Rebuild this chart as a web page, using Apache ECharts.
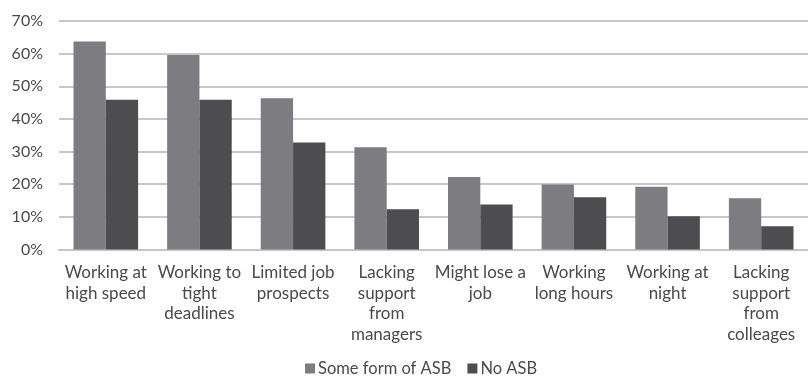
<!DOCTYPE html>
<html>
<head>
<meta charset="utf-8">
<script src="https://cdn.jsdelivr.net/npm/echarts@6/dist/echarts.min.js"></script>
<style>
  html, body { margin: 0; padding: 0; background: #ffffff; }
  #chart { width: 808px; height: 377px; }
</style>
</head>
<body>
<div id="chart"></div>
<script>
// Stressors reported by workers, split by whether they experienced ASB
const categories = [
  'Working at\nhigh speed',
  'Working to\ntight\ndeadlines',
  'Limited job\nprospects',
  'Lacking\nsupport\nfrom\nmanagers',
  'Might lose a\njob',
  'Working\nlong hours',
  'Working at\nnight',
  'Lacking\nsupport\nfrom\ncolleages'
];
const someFormOfASB = [63.7, 59.6, 46.3, 31.3, 22.2, 19.9, 19.2, 15.7];
const noASB = [45.9, 45.9, 32.8, 12.3, 13.8, 16.0, 10.2, 7.1];
const seriesNames = ['Some form of ASB', 'No ASB'];

const FONT = 'Lato, "Open Sans", sans-serif';
const TEXT = '#4a4a4e';

const chart = echarts.init(document.getElementById('chart'), null, { renderer: 'canvas' });
chart.setOption({
  animation: false,
  backgroundColor: '#ffffff',
  color: ['#7d7d81', '#4d4d50'],
  grid: { left: 59, right: -6, top: 21, bottom: 127.5, containLabel: false },
  legend: {
    data: seriesNames,
    left: 300,
    top: 355,
    itemWidth: 10,
    itemHeight: 10,
    itemGap: 16,
    icon: 'rect',
    textStyle: { fontFamily: FONT, fontSize: 16.5, color: TEXT, padding: [0, 0, 0, -2] }
  },
  xAxis: {
    type: 'category',
    data: categories,
    axisTick: { show: false },
    axisLine: { lineStyle: { color: '#c6c6c8', width: 2 } },
    axisLabel: {
      interval: 0,
      margin: 13,
      fontFamily: FONT,
      fontSize: 17,
      lineHeight: 20.5,
      color: TEXT,
      align: 'center'
    }
  },
  yAxis: {
    type: 'value',
    min: 0,
    max: 70,
    interval: 10,
    axisLine: { show: false },
    axisTick: { show: false },
    splitLine: { lineStyle: { color: '#c8c8ca', width: 2 } },
    axisLabel: {
      margin: 16,
      fontFamily: FONT,
      fontSize: 16,
      color: TEXT,
      formatter: v => v + '%'
    }
  },
  series: [
    {
      name: seriesNames[0],
      type: 'bar',
      data: someFormOfASB,
      barGap: '0%',
      barCategoryGap: '31%'
    },
    {
      name: seriesNames[1],
      type: 'bar',
      data: noASB,
      barGap: '0%',
      barCategoryGap: '31%'
    }
  ]
});
</script>
</body>
</html>
